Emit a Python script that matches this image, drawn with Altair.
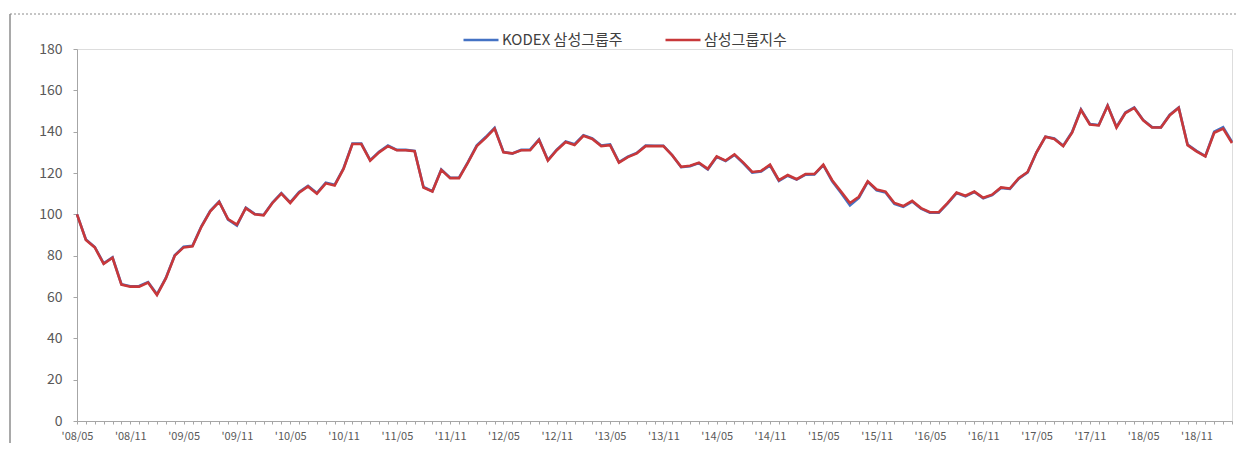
import json
import altair as alt
import pandas as pd

# Month index 0 = '08/05 ... 130 = '19/03
tick_labels = ["'08/05", "'08/11", "'09/05", "'09/11", "'10/05", "'10/11",
               "'11/05", "'11/11", "'12/05", "'12/11", "'13/05", "'13/11",
               "'14/05", "'14/11", "'15/05", "'15/11", "'16/05", "'16/11",
               "'17/05", "'17/11", "'18/05", "'18/11"]

series_names = ["KODEX 삼성그룹주", "삼성그룹지수"]

index_vals = [100, 87.6, 84, 76, 79, 66, 65, 65, 67, 61,
              69, 80, 84, 84.5, 94, 101.5, 106, 97.7, 95, 103,
              100, 99.5, 105.5, 110, 105.5, 110.5, 113.5, 110, 115, 114,
              122, 134, 134, 126, 130, 133, 131, 131, 130.5, 113,
              111, 121.5, 117.5, 117.5, 125, 133, 137, 141.5, 130, 129.5,
              131, 131, 136, 126, 131, 135, 133.5, 138, 136.5, 133,
              133.5, 125, 127.7, 129.5, 133, 133, 133, 128.5, 123, 123.5,
              125, 122, 128, 126, 129, 125, 120.5, 121, 124, 116.5,
              119, 117, 119.5, 119.5, 124, 116.5, 111, 105.5, 108.5, 116,
              112, 111, 105.5, 104, 106.5, 103, 101, 101, 105.5, 110.5,
              109, 111, 108, 109.5, 113, 112.5, 117.5, 120.5, 130, 137.5,
              136.5, 133, 139.5, 150.5, 143.5, 143, 152.5, 142, 149, 151.5,
              145.5, 142, 142, 148, 151.5, 133.5, 130.5, 128, 139.5, 141.5,
              134.5]

kodex_vals = [100, 87.8, 84.2, 76.3, 79.2, 66.2, 65.2, 65.3, 67.2, 61.3,
              69.2, 80.2, 84.3, 84.8, 94.2, 101.7, 106.2, 97.5, 94.6, 103.2,
              100.2, 99.7, 105.7, 110.3, 105.8, 110.8, 113.8, 110.3, 115.3, 114.3,
              122.3, 134.3, 134.2, 126.2, 130.3, 133.3, 131.2, 131.2, 130.7, 113.2,
              111.2, 121.7, 117.7, 117.8, 125.3, 133.4, 137.4, 141.8, 130.2, 129.4,
              131.2, 131.3, 136.2, 126.3, 131.3, 135.3, 133.9, 138.3, 136.8, 133.3,
              133.8, 125.3, 127.9, 129.7, 133.3, 133.2, 133.2, 128.6, 122.8, 123.3,
              124.8, 121.7, 127.8, 125.8, 128.8, 124.7, 120.2, 120.7, 123.7, 116.2,
              118.7, 116.8, 119.2, 119.3, 123.8, 116, 110.3, 104.3, 108, 115.7,
              111.6, 110.6, 105, 103.6, 106.2, 102.7, 100.8, 100.8, 105.3, 110.3,
              108.7, 110.8, 107.8, 109.3, 112.8, 112.3, 117.3, 120.3, 130, 137.6,
              136.7, 133.2, 139.8, 150.8, 143.7, 143.2, 152.7, 142.3, 149.3, 151.7,
              145.7, 142.2, 142.1, 148.2, 151.7, 133.8, 130.7, 128.2, 140, 142.2,
              135]

months = list(range(len(index_vals)))

df = pd.DataFrame({
    "m": months + months,
    "v": kodex_vals + index_vals,
    "s": [series_names[0]] * len(months) + [series_names[1]] * len(months),
})

FONT = "Noto Sans CJK KR"
label_list = json.dumps(tick_labels, ensure_ascii=False)

lines = alt.Chart(df).mark_line(strokeWidth=2.6).encode(
    x=alt.X("m:Q",
            scale=alt.Scale(domain=[0, 130], nice=False, zero=False),
            axis=alt.Axis(values=months, title=None,
                          labelExpr=f"datum.value % 6 == 0 ? {label_list}[datum.value / 6] : ''",
                          labelOverlap=False, labelFontSize=11, labelColor="#595959",
                          labelFont=FONT, labelPadding=6, tickSize=3, tickColor="#a6a6a6",
                          domainColor="#a6a6a6", grid=False, labelFlush=False)),
    y=alt.Y("v:Q",
            scale=alt.Scale(domain=[0, 180], nice=False),
            axis=alt.Axis(values=list(range(0, 181, 20)), title=None,
                          labelFontSize=14, labelColor="#595959", labelFont=FONT,
                          labelPadding=11, tickSize=4, tickColor="#a6a6a6",
                          domainColor="#a6a6a6", grid=False)),
    color=alt.Color("s:N",
                    scale=alt.Scale(domain=series_names, range=["#4472C4", "#C8383A"]),
                    legend=alt.Legend(title=None, orient="none", direction="horizontal",
                                      legendX=385, legendY=-28, symbolType="stroke",
                                      symbolSize=1225, symbolStrokeWidth=2.5,
                                      labelFontSize=15, labelColor="#404040", labelFont=FONT,
                                      columnPadding=37, labelOffset=2)),
)

frame_src = pd.DataFrame({"a": [0]})
top_rule = alt.Chart(frame_src).mark_rule(color="#8c8c8c", strokeDash=[2, 2], strokeWidth=1).encode(
    x=alt.value(-67), x2=alt.value(1160), y=alt.value(-35))
left_rule = alt.Chart(frame_src).mark_rule(color="#8c8c8c", strokeWidth=1.5).encode(
    x=alt.value(-67), y=alt.value(-35), y2=alt.value(400))

chart = alt.layer(top_rule, left_rule, lines).properties(
    width=1155, height=372,
    autosize=alt.AutoSizeParams(type="none"),
    padding={"left": 69, "top": 41, "right": 5, "bottom": 22},
).configure_view(stroke=None).configure(background="white")

chart.save("out.html", embed_options={"renderer": "svg", "actions": False})
